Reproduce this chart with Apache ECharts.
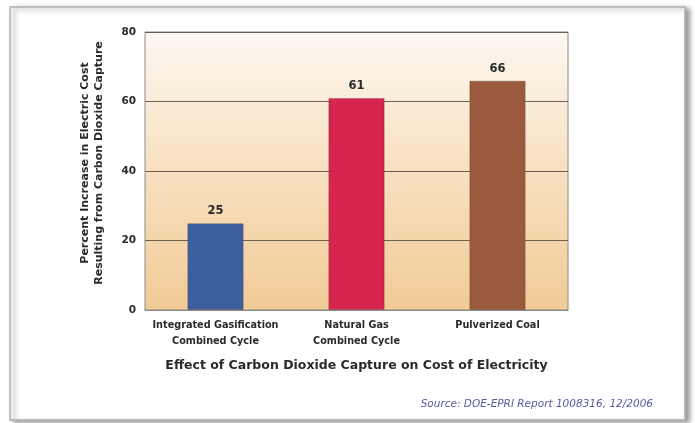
<!DOCTYPE html>
<html>
<head>
<meta charset="utf-8">
<script src="https://cdn.jsdelivr.net/npm/echarts@6/dist/echarts.min.js"></script>
<style>
  html, body { margin: 0; padding: 0; background: #ffffff; }
  #chart { width: 695px; height: 423px; }
</style>
</head>
<body>
<div id="chart"></div>
<script>
// Technologies compared
const categories = ['Integrated Gasification\nCombined Cycle', 'Natural Gas\nCombined Cycle', 'Pulverized Coal'];
// Percent increase in cost of electricity with CO2 capture
const values = [25, 61, 66];
const barColors = ['#3e5f9f', '#d6254f', '#9b5a3d'];
const yTicks = [0, 20, 40, 60, 80];

const chart = echarts.init(document.getElementById('chart'), null, { renderer: 'canvas' });

const font = '"DejaVu Sans", Verdana, sans-serif';
const ink = '#2a2a2a';

chart.setOption({
  animation: false,
  backgroundColor: '#ffffff',
  graphic: [
    {
      type: 'rect',
      z: -10,
      shape: { x: 10, y: 7, width: 675, height: 413 },
      style: {
        fill: '#ffffff',
        stroke: '#b0b0b0',
        lineWidth: 1.5,
        shadowBlur: 5,
        shadowOffsetX: 4,
        shadowOffsetY: 2,
        shadowColor: 'rgba(0,0,0,0.4)'
      }
    },
    {
      type: 'text',
      right: 42,
      top: 399,
      style: {
        text: 'Source: DOE-EPRI Report 1008316, 12/2006',
        fill: '#5b5a9c',
        font: 'italic 10.5px ' + font
      }
    }
  ],
  grid: {
    left: 145,
    right: 127,
    top: 32,
    bottom: 113,
    show: true,
    borderColor: '#8a8a8a',
    borderWidth: 1,
    backgroundColor: {
      type: 'linear', x: 0, y: 0, x2: 0, y2: 1,
      colorStops: [
        { offset: 0, color: '#fdf8f2' },
        { offset: 0.45, color: '#f8e2c4' },
        { offset: 1, color: '#f1cb96' }
      ]
    }
  },
  xAxis: {
    type: 'category',
    data: categories,
    name: 'Effect of Carbon Dioxide Capture on Cost of Electricity',
    nameLocation: 'middle',
    nameGap: 49,
    nameTextStyle: { fontFamily: font, fontWeight: 'bold', fontSize: 12.5, color: ink },
    axisLine: { show: true, lineStyle: { color: '#8a8a8a' } },
    axisTick: { show: false },
    axisLabel: {
      fontFamily: font, fontWeight: 'bold', fontSize: 9.7, color: ink,
      lineHeight: 16, margin: 7, interval: 0
    }
  },
  yAxis: {
    type: 'value',
    min: 0,
    max: 80,
    interval: 20,
    name: 'Percent Increase in Electric Cost\nResulting from Carbon Dioxide Capture',
    nameLocation: 'middle',
    nameGap: 39,
    nameRotate: 90,
    nameTextStyle: {
      fontFamily: font, fontWeight: 'bold', fontSize: 11, color: ink, lineHeight: 14,
      padding: [0, 0, 0, 16]
    },
    axisLine: { show: false },
    axisTick: { show: false },
    axisLabel: {
      fontFamily: font, fontWeight: 'bold', fontSize: 10.5, color: ink, margin: 9,
      formatter: v => (yTicks.includes(v) ? String(v) : '')
    },
    splitLine: { show: true, lineStyle: { color: '#6e6050', width: 1 } }
  },
  series: [{
    type: 'bar',
    barWidth: '40%',
    data: values.map((v, i) => ({ value: v, itemStyle: { color: barColors[i] } })),
    itemStyle: { borderColor: 'rgba(0,0,0,0.18)', borderWidth: 1 },
    label: {
      show: true,
      position: 'top',
      distance: 6,
      fontFamily: font,
      fontWeight: 'bold',
      fontSize: 11.5,
      color: ink
    },
    z: 3
  }]
});
</script>
</body>
</html>
